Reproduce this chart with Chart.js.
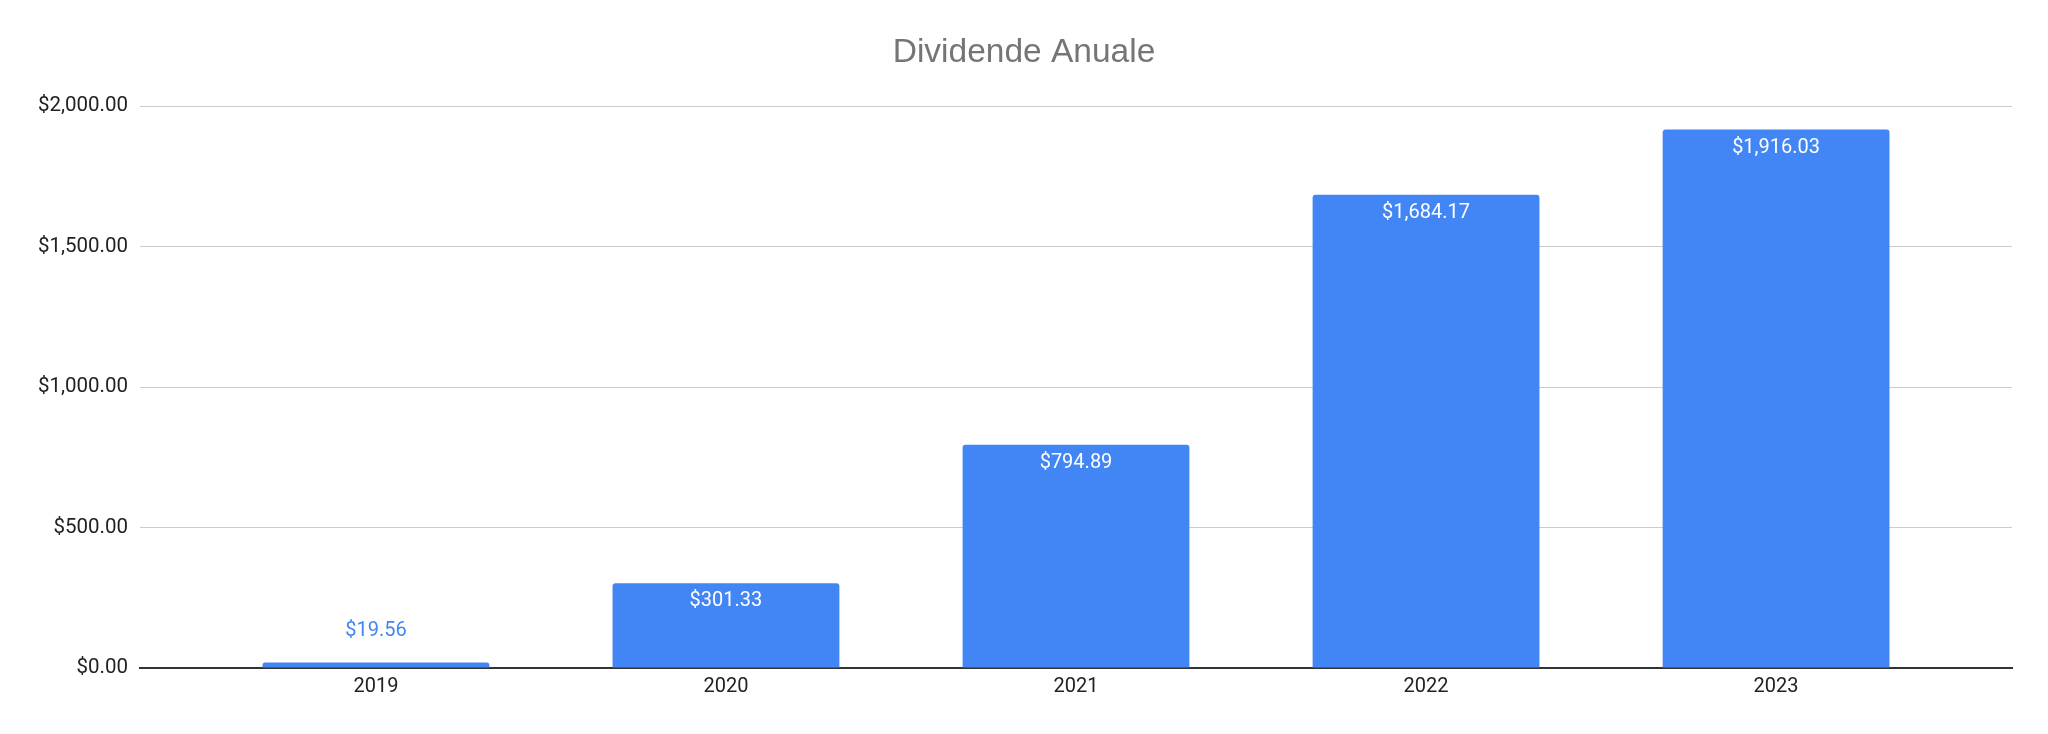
<!DOCTYPE html>
<html>
<head>
<meta charset="utf-8">
<title>Dividende Anuale</title>
<script src="https://cdn.jsdelivr.net/npm/chart.js"></script>
<style>
  html, body { margin: 0; padding: 0; background: #fff; }
  canvas { display: block; }
</style>
</head>
<body>
<canvas id="chart" width="2048" height="734"></canvas>
<script>
// Chart data
const chartTitle = 'Dividende Anuale';
const years = ['2019', '2020', '2021', '2022', '2023'];
const dividends = [19.56, 301.33, 794.89, 1684.17, 1916.03];
const yTicks = [0, 500, 1000, 1500, 2000];

const BLUE = '#4285f4';

function money(v) {
  return '$' + v.toLocaleString('en-US', { minimumFractionDigits: 2, maximumFractionDigits: 2 });
}

// Title centred on the whole canvas (the built-in one centres on the padded box)
const pageTitle = {
  id: 'pageTitle',
  afterDraw(chart) {
    const ctx = chart.ctx;
    ctx.save();
    ctx.font = '33.5px "Liberation Sans", Arial, sans-serif';
    ctx.fillStyle = '#757575';
    ctx.textAlign = 'center';
    ctx.textBaseline = 'middle';
    ctx.fillText(chartTitle, chart.width / 2, 53);
    ctx.restore();
  }
};

// Draw value labels inside (or above, for short bars) each bar
const valueLabels = {
  id: 'valueLabels',
  afterDatasetsDraw(chart) {
    const ctx = chart.ctx;
    const meta = chart.getDatasetMeta(0);
    ctx.save();
    ctx.font = '20px Roboto';
    ctx.textAlign = 'center';
    ctx.textBaseline = 'middle';
    meta.data.forEach((bar, i) => {
      const h = bar.base - bar.y;
      if (h > 40) {
        ctx.fillStyle = '#ffffff';
        ctx.fillText(money(dividends[i]), bar.x, bar.y + 18);
      } else {
        ctx.fillStyle = BLUE;
        ctx.fillText(money(dividends[i]), bar.x, bar.y - 32);
      }
    });
    ctx.restore();
  }
};

const ctx = document.getElementById('chart');
new Chart(ctx, {
  type: 'bar',
  data: {
    datasets: [{
      label: 'Dividende',
      data: dividends.map((v, i) => ({ x: i, y: v })),
      backgroundColor: BLUE,
      borderRadius: { topLeft: 3, topRight: 3, bottomLeft: 0, bottomRight: 0 },
      borderSkipped: 'start',
      barPercentage: 0.648,
      categoryPercentage: 1
    }]
  },
  options: {
    responsive: false,
    animation: false,
    devicePixelRatio: 1,
    layout: { padding: { left: 0, right: 36, top: 106, bottom: 0 } },
    plugins: {
      legend: { display: false },
      tooltip: { enabled: false },
      title: { display: false }
    },
    scales: {
      x: {
        type: 'linear',
        offset: false,
        min: -0.674,
        max: 4.674,
        afterBuildTicks: (axis) => {
          axis.ticks = years.map((_, i) => ({ value: i }));
        },
        afterFit: (axis) => { axis.height = 66; },
        grid: { display: false, drawTicks: false, offset: false },
        border: { display: true, color: '#333333', width: 2 },
        ticks: {
          padding: 7,
          color: '#222222',
          font: { family: 'Roboto', size: 20 },
          maxRotation: 0,
          callback: (v) => years[v] ?? ''
        }
      },
      y: {
        min: 0,
        max: 2000,
        afterBuildTicks: (axis) => {
          axis.ticks = yTicks.map((v) => ({ value: v }));
        },
        afterFit: (axis) => { axis.width = 140; },
        grid: { color: '#cccccc', lineWidth: 1, drawTicks: false },
        border: { display: false },
        ticks: {
          padding: 12,
          color: '#222222',
          font: { family: 'Roboto', size: 20.5 },
          callback: (v) => money(v)
        }
      }
    }
  },
  plugins: [valueLabels, pageTitle]
});
</script>
</body>
</html>
